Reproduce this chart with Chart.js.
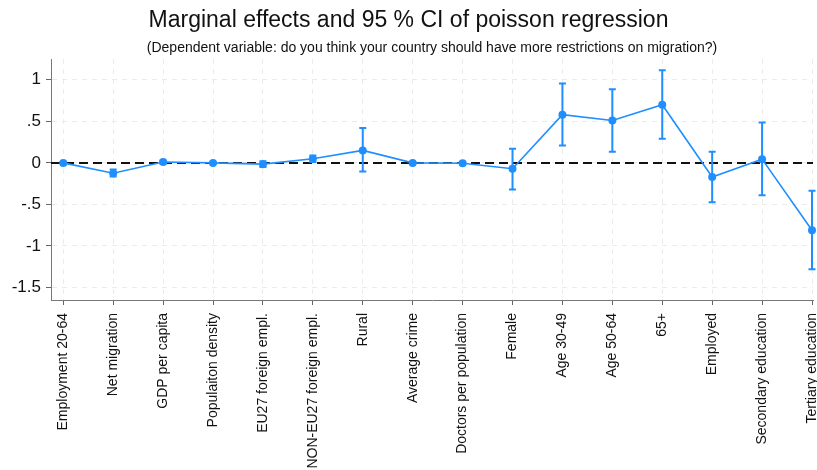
<!DOCTYPE html>
<html>
<head>
<meta charset="utf-8">
<script src="https://cdn.jsdelivr.net/npm/chart.js@4"></script>
<style>
  html, body { margin: 0; padding: 0; background: #fff; }
  #wrap { width: 817px; height: 470px; }
</style>
</head>
<body>
<div id="wrap"><canvas id="grafica"></canvas></div>
<script>
// variables (x axis)
const categories = ["Employment 20-64", "Net migration", "GDP per capita", "Populaiton density",
  "EU27 foreign empl.", "NON-EU27 foreign empl.", "Rural", "Average crime", "Doctors per population",
  "Female", "Age 30-49", "Age 50-64", "65+", "Employed", "Secondary education", "Tertiary education"];

// marginal effects and 95% CI bounds
const effects = [0, -0.125, 0.01, 0, -0.015, 0.05, 0.15, 0, -0.005, -0.07, 0.58, 0.51, 0.70, -0.17, 0.045, -0.81];
const ciLow   = [-0.01, -0.165, -0.01, -0.01, -0.05, 0.01, -0.105, -0.01, -0.02, -0.32, 0.21, 0.135, 0.29, -0.475, -0.39, -1.28];
const ciHigh  = [0.01, -0.08, 0.03, 0.01, 0.02, 0.09, 0.42, 0.01, 0.01, 0.17, 0.955, 0.885, 1.115, 0.135, 0.485, -0.335];

// y axis ticks
const yTickValues = [-1.5, -1, -0.5, 0, 0.5, 1];
const yTickLabels = ["-1.5", "-1", "-.5", "0", ".5", "1"];

const azul = '#1f8fff';
Chart.defaults.font.family = '"Liberation Sans", Arial, sans-serif';
Chart.defaults.color = '#222';

// dashed reference line at zero + CI whiskers
const extras = {
  id: 'extras',
  beforeDatasetsDraw(chart) {
    const { ctx, chartArea, scales: { x, y } } = chart;
    ctx.save();
    const y0 = y.getPixelForValue(0);
    ctx.strokeStyle = '#111';
    ctx.lineWidth = 2;
    ctx.setLineDash([9, 5]);
    ctx.beginPath();
    ctx.moveTo(chartArea.left, y0);
    ctx.lineTo(chartArea.right, y0);
    ctx.stroke();
    ctx.setLineDash([]);

    ctx.strokeStyle = azul;
    ctx.lineWidth = 2;
    for (let i = 0; i < categories.length; i++) {
      const px = x.getPixelForValue(i);
      const lo = y.getPixelForValue(ciLow[i]);
      const hi = y.getPixelForValue(ciHigh[i]);
      ctx.beginPath();
      ctx.moveTo(px, lo); ctx.lineTo(px, hi);
      ctx.moveTo(px - 3.5, lo); ctx.lineTo(px + 3.5, lo);
      ctx.moveTo(px - 3.5, hi); ctx.lineTo(px + 3.5, hi);
      ctx.stroke();
    }
    ctx.restore();
  }
};

new Chart(document.querySelector('#grafica'), {
  type: 'line',
  data: {
    datasets: [{
      data: effects.map((v, i) => ({ x: i, y: v })),
      borderColor: azul,
      backgroundColor: azul,
      borderWidth: 1.6,
      pointRadius: 4,
      pointBorderWidth: 0,
      tension: 0,
      clip: false
    }]
  },
  options: {
    responsive: true,
    maintainAspectRatio: false,
    animation: false,
    layout: { padding: 0 },
    plugins: {
      legend: { display: false },
      tooltip: { enabled: false },
      title: {
        display: true,
        text: 'Marginal effects and 95 % CI of poisson regression',
        color: '#111',
        font: { size: 23, weight: 'normal' },
        padding: { top: 7, bottom: 5 }
      },
      subtitle: {
        display: true,
        fullSize: false,
        text: '(Dependent variable: do you think your country should have more restrictions on migration?)',
        color: '#111',
        font: { size: 14 },
        padding: { top: 0, bottom: 2.6 }
      }
    },
    scales: {
      x: {
        type: 'linear',
        min: -0.246,
        max: 15.02,
        afterBuildTicks: s => { s.ticks = categories.map((c, i) => ({ value: i })); },
        afterFit: s => { s.height = 170; s.paddingLeft = 0; s.paddingRight = 0; },
        ticks: {
          autoSkip: false,
          minRotation: 90,
          maxRotation: 90,
          padding: 8,
          color: '#111',
          font: { size: 14 },
          callback: v => categories[v]
        },
        grid: { color: '#ebebeb', lineWidth: 1, tickColor: '#666', tickLength: 5, tickBorderDash: [] },
        border: { display: true, color: '#777', width: 1, dash: [5, 5] }
      },
      y: {
        type: 'linear',
        min: -1.65,
        max: 1.25,
        afterBuildTicks: s => { s.ticks = yTickValues.map(v => ({ value: v })); },
        afterFit: s => { s.width = 51; s.paddingTop = 0; s.paddingBottom = 0; },
        ticks: {
          padding: 5,
          color: '#111',
          font: { size: 17 },
          callback: v => yTickLabels[yTickValues.indexOf(v)]
        },
        grid: { color: '#ebebeb', lineWidth: 1, tickColor: '#666', tickLength: 5, tickBorderDash: [] },
        border: { display: true, color: '#777', width: 1, dash: [5, 5] }
      }
    }
  },
  plugins: [extras]
});
</script>
</body>
</html>
